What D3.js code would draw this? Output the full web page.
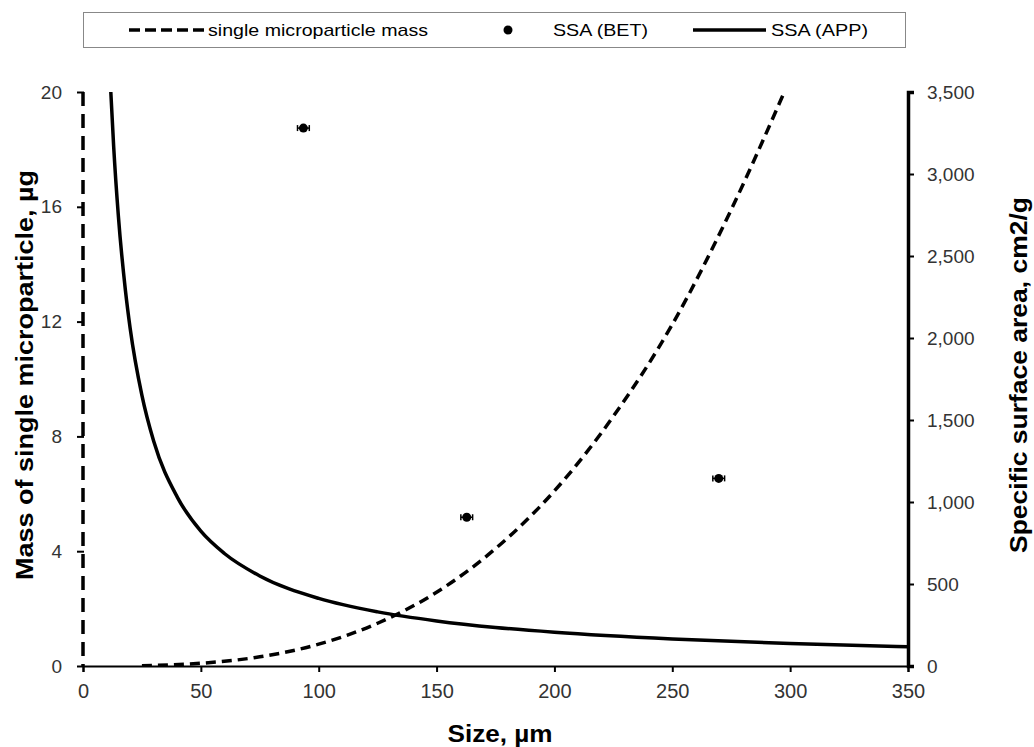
<!DOCTYPE html>
<html lang="en">
  <head>
    <meta charset="utf-8"/>
    <script src="https://d3js.org/d3.v7.min.js"></script>
    <title>Microparticle mass and SSA</title>
    <style>
      body { margin: 0; background: #fff; }
      text { font-family: "Liberation Sans", Arial, sans-serif; }
      .tick text { fill: #333; font-size: 19px; }
      .x-axis .tick text { font-size: 20px; }
      .axis-title { font-size: 24px; font-weight: bold; fill: #000; }
      .legend text { font-size: 17px; fill: #000; }
    </style>
  </head>
  <body>
    <svg id="chart"></svg>
    <script>
      const width = 1034;
      const height = 747;
      const margin = {top: 92, right: 126, bottom: 81, left: 83};

      // single microparticle mass, µg
      const massSize = [25, 50, 75, 100, 125, 150, 175, 200, 225, 250, 275, 297];
      const massValue = [0.012, 0.095, 0.32, 0.76, 1.49, 2.57, 4.09, 6.1, 8.7, 11.9, 15.9, 19.9];

      // SSA (APP), cm2/g
      const appSize = [11.8, 13, 15, 18, 20, 25, 30, 40, 50, 60, 75, 100, 125, 150, 175, 200, 250, 300, 350];
      const appValue = [3500, 3170, 2745, 2290, 2060, 1650, 1370, 1030, 822, 686, 549, 412, 330, 275, 235, 206, 165, 137, 118];

      // SSA (BET) points with size error
      const betSize = [93.5, 162.8, 269.7];
      const betValue = [3280, 907, 1144];
      const betErr = [2.5, 2.5, 2.5];

      const xTicks = [0, 50, 100, 150, 200, 250, 300, 350];
      const yLeftTicks = [0, 4, 8, 12, 16, 20];
      const yRightTicks = [0, 500, 1000, 1500, 2000, 2500, 3000, 3500];

      const legendItems = ["single microparticle mass", "SSA (BET)", "SSA (APP)"];

      const svg = d3.select("#chart")
        .attr("width", width)
        .attr("height", height);

      const x = d3.scaleLinear().domain([0, 350]).range([margin.left, width - margin.right]);
      const yL = d3.scaleLinear().domain([0, 20]).range([height - margin.bottom, margin.top]);
      const yR = d3.scaleLinear().domain([0, 3500]).range([height - margin.bottom, margin.top]);

      svg.append("defs").append("clipPath").attr("id", "clip")
        .append("rect")
        .attr("x", margin.left).attr("y", margin.top - 1)
        .attr("width", width - margin.left - margin.right)
        .attr("height", height - margin.top - margin.bottom + 1);

      // x axis
      const xAxis = svg.append("g")
        .attr("class", "x-axis")
        .attr("transform", "translate(0," + (height - margin.bottom) + ")")
        .call(d3.axisBottom(x).tickValues(xTicks).tickSize(6).tickPadding(12).tickFormat(d3.format("d")));
      xAxis.select(".domain").attr("stroke-width", 2);
      xAxis.selectAll(".tick line").attr("stroke-width", 2);

      // left axis (dashed, like its series)
      const yLAxis = svg.append("g")
        .attr("transform", "translate(" + margin.left + ",0)")
        .call(d3.axisLeft(yL).tickValues(yLeftTicks).tickSize(6).tickPadding(15));
      yLAxis.select(".domain").remove();
      yLAxis.selectAll(".tick line").attr("stroke-width", 2).attr("x1", 1);
      svg.append("line")
        .attr("x1", margin.left).attr("x2", margin.left)
        .attr("y1", yL(20)).attr("y2", yL(0))
        .attr("stroke", "#000").attr("stroke-width", 3.5)
        .attr("stroke-dasharray", "14,8");

      // right axis
      const yRAxis = svg.append("g")
        .attr("transform", "translate(" + (width - margin.right) + ",0)")
        .call(d3.axisRight(yR).tickValues(yRightTicks).tickSize(6).tickPadding(13).tickFormat(d3.format(",")));
      yRAxis.select(".domain").attr("stroke-width", 3.5);
      yRAxis.selectAll(".tick line").attr("stroke-width", 2);

      // axis titles
      svg.append("text").attr("class", "axis-title")
        .attr("x", 500).attr("y", 742)
        .attr("text-anchor", "middle")
        .attr("textLength", 105).attr("lengthAdjust", "spacingAndGlyphs")
        .text("Size, µm");
      svg.append("text").attr("class", "axis-title")
        .attr("transform", "translate(33,375) rotate(-90)")
        .attr("text-anchor", "middle")
        .attr("textLength", 410).attr("lengthAdjust", "spacingAndGlyphs")
        .text("Mass of single microparticle, µg");
      svg.append("text").attr("class", "axis-title")
        .attr("transform", "translate(1027,375) rotate(-90)")
        .attr("text-anchor", "middle")
        .attr("textLength", 356).attr("lengthAdjust", "spacingAndGlyphs")
        .text("Specific surface area, cm2/g");

      const g = svg.append("g").attr("clip-path", "url(#clip)");

      // mass curve
      g.append("path")
        .datum(massSize.map((s, i) => [s, massValue[i]]))
        .attr("fill", "none").attr("stroke", "#000").attr("stroke-width", 3.5)
        .attr("stroke-dasharray", "10,6")
        .attr("d", d3.line().x(d => x(d[0])).y(d => yL(d[1])).curve(d3.curveMonotoneX));

      // SSA (APP) curve
      g.append("path")
        .datum(appSize.map((s, i) => [s, appValue[i]]))
        .attr("fill", "none").attr("stroke", "#000").attr("stroke-width", 3.5)
        .attr("d", d3.line().x(d => x(d[0])).y(d => yR(d[1])).curve(d3.curveMonotoneX));

      // SSA (BET) points with error bars
      const bet = svg.append("g");
      betSize.forEach((s, i) => {
        const cy = yR(betValue[i]);
        bet.append("line")
          .attr("x1", x(s - betErr[i])).attr("x2", x(s + betErr[i]))
          .attr("y1", cy).attr("y2", cy)
          .attr("stroke", "#000").attr("stroke-width", 1.5);
        [s - betErr[i], s + betErr[i]].forEach(e => {
          bet.append("line")
            .attr("x1", x(e)).attr("x2", x(e))
            .attr("y1", cy - 3).attr("y2", cy + 3)
            .attr("stroke", "#000").attr("stroke-width", 1.5);
        });
        bet.append("circle")
          .attr("cx", x(s)).attr("cy", cy).attr("r", 4.5)
          .attr("fill", "#000");
      });

      // legend
      const legend = svg.append("g").attr("class", "legend");
      legend.append("rect")
        .attr("x", 83.5).attr("y", 12.5).attr("width", 822).attr("height", 35)
        .attr("fill", "#fff").attr("stroke", "#888").attr("stroke-width", 1);
      legend.append("line")
        .attr("x1", 129).attr("x2", 205).attr("y1", 30).attr("y2", 30)
        .attr("stroke", "#000").attr("stroke-width", 3.5).attr("stroke-dasharray", "11,5");
      legend.append("text").attr("x", 208).attr("y", 36)
        .attr("textLength", 220).attr("lengthAdjust", "spacingAndGlyphs")
        .text(legendItems[0]);
      legend.append("circle").attr("cx", 508).attr("cy", 30).attr("r", 4.5).attr("fill", "#000");
      legend.append("text").attr("x", 553).attr("y", 36)
        .attr("textLength", 95).attr("lengthAdjust", "spacingAndGlyphs")
        .text(legendItems[1]);
      legend.append("line")
        .attr("x1", 693).attr("x2", 766).attr("y1", 30).attr("y2", 30)
        .attr("stroke", "#000").attr("stroke-width", 3.5);
      legend.append("text").attr("x", 771).attr("y", 36)
        .attr("textLength", 97).attr("lengthAdjust", "spacingAndGlyphs")
        .text(legendItems[2]);
    </script>
  </body>
</html>
